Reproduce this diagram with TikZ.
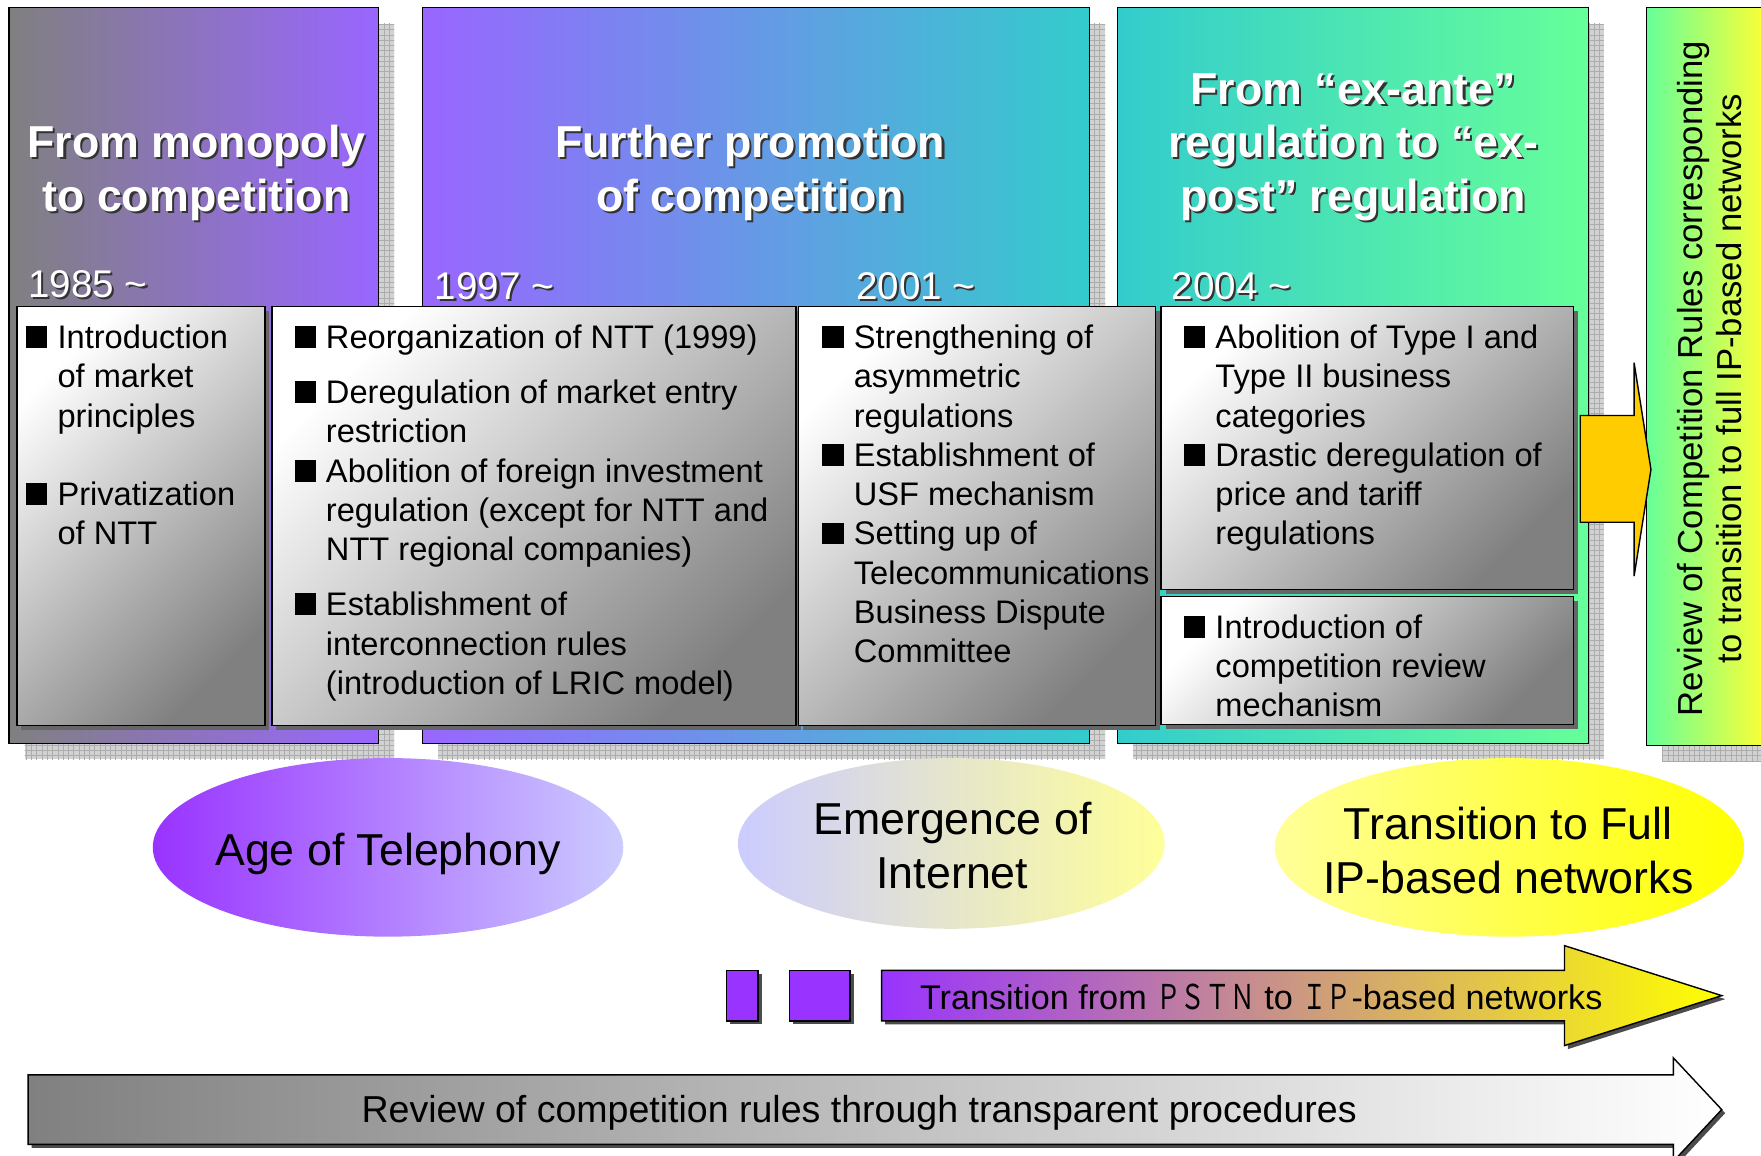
\documentclass[tikz,border=0pt]{standalone}
\usepackage{fontspec}
\usepackage{graphicx}
\setmainfont{Liberation Sans}
\newfontfamily\cjk{Noto Sans CJK JP}
\usetikzlibrary{patterns,shadows}

\definecolor{grayp}{HTML}{808080}
\definecolor{lilac}{HTML}{9966FF}
\definecolor{tealc}{HTML}{33CCCC}
\definecolor{mint}{HTML}{66FF99}
\definecolor{lemon}{HTML}{FFFF33}
\definecolor{violetc}{HTML}{9933FF}
\definecolor{lavender}{HTML}{CCCCFF}
\definecolor{paleyellow}{HTML}{FFFF99}
\definecolor{brightyellow}{HTML}{FFFF00}
\definecolor{goldc}{HTML}{FFCC00}

\newcommand{\blt}{\makebox[17.9pt][l]{\rule[0.3pt]{12pt}{12.5pt}}}
\newcommand{\ind}{\hspace*{17.9pt}}
\newcommand{\til}{\textasciitilde}
\newcommand{\shadowtext}[4]{%
  \node[#1, text=black!80, xshift=1.2pt, yshift=-1.2pt] at (#3) {#4};
  \node[#1] (#2) at (#3) {#4};}

\begin{document}
\begin{tikzpicture}[x=0.0225cm, y=-0.0225cm,
    panel/.style={draw=black, line width=0.6pt},
    panelshadow/.style={fill=gray!35, postaction={pattern=grid, pattern color=gray!65}},
    itembox/.style={draw=black, line width=0.9pt, top color=white, bottom color=grayp,
      shading angle=45, drop shadow={shadow xshift=2.5pt, shadow yshift=-2.5pt, fill=black!60, opacity=1}},
    head/.style={align=center, text=white, font=\fontsize{25.5}{30.6}\selectfont\bfseries},
    year/.style={anchor=west, inner sep=0pt, text=white, font=\fontsize{22}{26}\selectfont},
    itemtext/.style={anchor=north west, align=left, inner sep=0pt, font=\fontsize{18.6}{22.4}\selectfont},
    age/.style={align=center, inner sep=0pt, font=\fontsize{25.5}{30.6}\selectfont},
    solid shadow/.style={drop shadow={shadow xshift=2pt, shadow yshift=-2pt, fill=black!70, opacity=1}}]

  \useasboundingbox (0,0) rectangle (1568,1029);
  \clip (0,0) rectangle (1568,1029);

  % panels
  \fill[panelshadow] (22,21) rectangle (351,676);
  \fill[panelshadow] (390,21) rectangle (984,676);
  \fill[panelshadow] (1009,21) rectangle (1428,676);
  \fill[panelshadow] (1480,22) rectangle (1590,678);
  \draw[panel, left color=grayp, right color=lilac] (8,7) rectangle (337,662);
  \draw[panel, left color=lilac, right color=tealc] (376,7) rectangle (970,662);
  \draw[panel, left color=tealc, right color=mint] (995,7) rectangle (1414,662);
  \draw[panel, left color=mint, right color=lemon] (1466,7) rectangle (1574,664);

  \shadowtext{head}{h1}{175,154}{From monopoly\\to competition}
  \shadowtext{head}{h2}{668,154}{Further promotion\\of competition}
  \shadowtext{head}{h3}{1205,131}{From “ex-ante”\\regulation to “ex-\\post” regulation}

  \shadowtext{year}{y1}{25,253}{1985 \til}
  \shadowtext{year}{y2}{387,255}{1997 \til}
  \shadowtext{year}{y3}{762,255}{2001 \til}
  \shadowtext{year}{y4}{1043,255}{2004 \til}

  % boxes
  \draw[itembox] (15,273) rectangle (236,646);
  \draw[itembox] (242,273) rectangle (709,646);
  \draw[itembox] (711,273) rectangle (1029,646);
  \draw[itembox] (1034,273) rectangle (1401,525);
  \draw[itembox] (1034,531) rectangle (1401,645);

  \node[itemtext] (ta) at (23,289) {\blt Introduction\\ \ind of market\\ \ind principles\\[22.4pt]
    \blt Privatization\\ \ind of NTT};
  \node[itemtext] (tb) at (262,289) {\blt Reorganization of NTT (1999)\\[9pt]
    \blt Deregulation of market entry\\ \ind restriction\\
    \blt Abolition of foreign investment\\ \ind regulation (except for NTT and\\ \ind NTT regional companies)\\[9pt]
    \blt Establishment of\\ \ind interconnection rules\\ \ind (introduction of LRIC model)};
  \node[itemtext] (tc) at (732,289) {\blt Strengthening of\\ \ind asymmetric\\ \ind regulations\\
    \blt Establishment of\\ \ind USF mechanism\\
    \blt Setting up of\\ \ind Telecommunications\\ \ind Business Dispute\\ \ind Committee};
  \node[itemtext] (td) at (1054,289) {\blt Abolition of Type I and\\ \ind Type II business\\ \ind categories\\
    \blt Drastic deregulation of\\ \ind price and tariff\\ \ind regulations};
  \node[itemtext] (te) at (1054,547) {\blt Introduction of\\ \ind competition review\\ \ind mechanism};

  \node[rotate=90, align=center, font=\fontsize{19.8}{22.4}\selectfont] (ip) at (1522,337)
    {Review of Competition Rules corresponding\\to transition to full IP-based networks};

  \draw[fill=goldc, line width=0.8pt] (1407,370) -- (1455,370) -- (1455,323) -- (1470,418)
    -- (1455,513) -- (1455,465) -- (1407,465) -- cycle;

  % ages
  \path[left color=violetc, right color=lavender] (345.5,754.5) ellipse [x radius=209.5, y radius=79.5];
  \path[left color=lavender, right color=paleyellow] (847,751) ellipse [x radius=190, y radius=76];
  \path[left color=paleyellow, right color=brightyellow] (1344,754.5) ellipse [x radius=209, y radius=79.5];
  \node[age] (tel) at (345.5,760) {Age of Telephony};
  \node[age] (inet) at (848,753) {Emergence of\\Internet};
  \node[age] (full) at (1343,757) {Transition to Full\\IP-based networks};

  % transition arrows
  \draw[fill=violetc, line width=0.8pt, solid shadow] (647,864) rectangle (675,909);
  \draw[fill=violetc, line width=0.8pt, solid shadow] (703,864) rectangle (757,909);
  \draw[line width=0.8pt, left color=violetc, right color=brightyellow, solid shadow]
    (785,864) -- (1393,864) -- (1393,842) -- (1533,886.5) -- (1393,931) -- (1393,909) -- (785,909) -- cycle;
  \node[font=\fontsize{19.5}{23}\selectfont] (pstn) at (1123,888)
    {Transition from {\cjk\scalebox{0.72}[1]{ＰＳＴＮ}} to {\cjk\scalebox{0.72}[1]{ＩＰ}}-based networks};

  \draw[line width=0.8pt, left color=grayp, right color=white, solid shadow]
    (25,957) -- (1490,957) -- (1490,942) -- (1533,988) -- (1490,1034) -- (1490,1019) -- (25,1019) -- cycle;
  \node[font=\fontsize{21.4}{25}\selectfont] (rev) at (765,991)
    {Review of competition rules through transparent procedures};

\end{tikzpicture}
\end{document}
